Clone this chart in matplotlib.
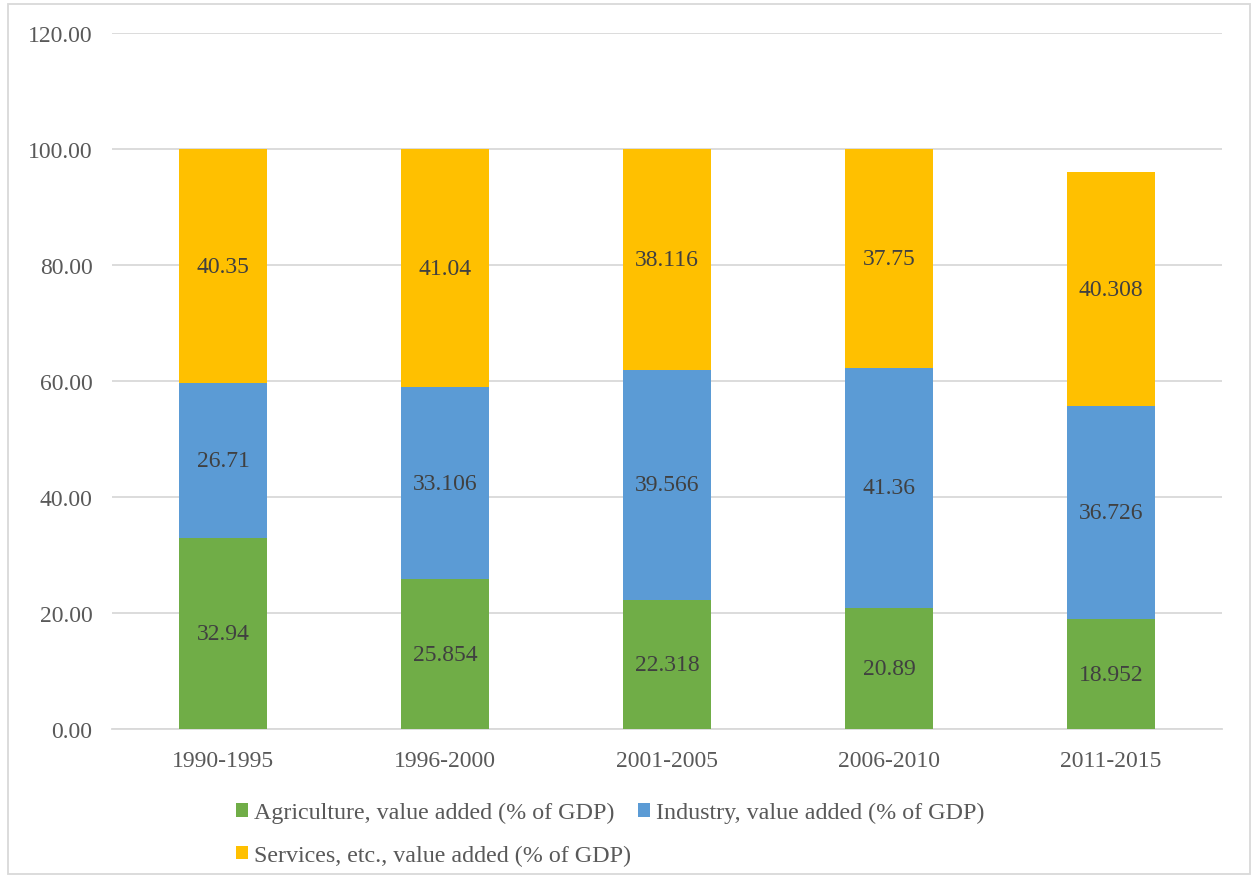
import matplotlib
matplotlib.use('Agg')
import matplotlib.pyplot as plt
from matplotlib.patches import Rectangle

periods = ['1990-1995', '1996-2000', '2001-2005', '2006-2010', '2011-2015']
agriculture = [32.94, 25.854, 22.318, 20.89, 18.952]
industry = [26.71, 33.106, 39.566, 41.36, 36.726]
services = [40.35, 41.04, 38.116, 37.75, 40.308]

labels = ['Agriculture, value added (% of GDP)',
          'Industry, value added (% of GDP)',
          'Services, etc., value added (% of GDP)']
colors = ['#70AD47', '#5B9BD5', '#FFC000']

plt.rcParams['font.family'] = ['Liberation Serif', 'DejaVu Serif']

fig = plt.figure(figsize=(12.57, 8.79), dpi=100)
ax = fig.add_axes([112 / 1257, 1 - 730 / 879, 1110 / 1257, 696 / 879])

x = list(range(len(periods)))
bottoms = [0] * len(periods)
bars = []
for series, color, label in zip([agriculture, industry, services], colors, labels):
    b = ax.bar(x, series, width=0.4, bottom=bottoms, color=color, label=label, zorder=3)
    bars.append(b)
    for xi, v, btm in zip(x, series, bottoms):
        ax.text(xi, btm + v / 2, f'{v:g}', ha='center', va='center',
                fontsize=17, color='#404040', zorder=4)
    bottoms = [a + b_ for a, b_ in zip(bottoms, series)]

ax.set_xlim(-0.5, len(periods) - 0.5)
ax.set_ylim(0, 120)
ax.set_yticks(range(0, 121, 20))
ax.set_yticklabels([f'{t:.2f}' for t in range(0, 121, 20)])
ax.set_xticks(x)
ax.set_xticklabels(periods)
ax.tick_params(axis='both', length=0, labelsize=17, labelcolor='#595959')
ax.tick_params(axis='y', pad=14)
ax.tick_params(axis='x', pad=15)
ax.grid(axis='y', color='#D9D9D9', linewidth=1.3, zorder=0)
for s in ['top', 'right', 'left']:
    ax.spines[s].set_visible(False)
ax.spines['bottom'].set_color('#D9D9D9')
ax.spines['bottom'].set_linewidth(1.3)

# legend: column order so that services sits below agriculture
handles = [bars[0], bars[2], bars[1]]
leg_labels = [labels[0], labels[2], labels[1]]
fig.legend(handles, leg_labels, ncol=2, loc='upper left',
           bbox_to_anchor=(236 / 1257, 1 - 803 / 879), frameon=False,
           fontsize=17.3, labelcolor='#595959', handlelength=0.5,
           handleheight=0.5, handletextpad=0.25, columnspacing=0.3,
           labelspacing=0.9, borderaxespad=0, borderpad=0)

fig.patches.append(Rectangle((8 / 1257, 4 / 879), 1242 / 1257, 870 / 879,
                             transform=fig.transFigure, fill=False,
                             edgecolor='#D9D9D9', linewidth=1.3))

fig.savefig('out.png', dpi=100)
